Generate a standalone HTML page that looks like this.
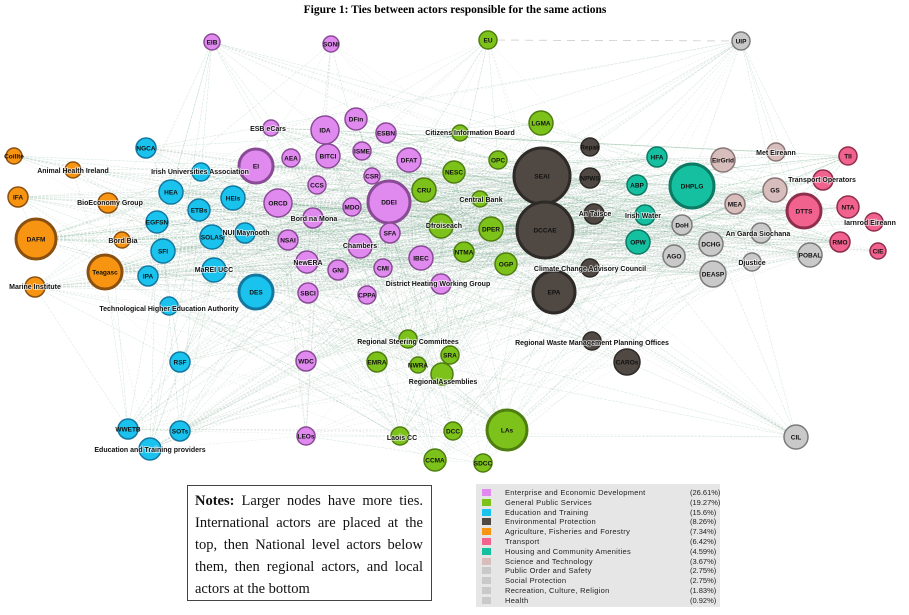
<!DOCTYPE html>
<html><head><meta charset="utf-8"><style>
html,body{margin:0;padding:0;background:#fff;width:909px;height:615px;overflow:hidden}
svg{display:block}
.t{font-family:"Liberation Sans",sans-serif;font-size:7px;font-weight:bold;fill:#111;text-anchor:middle;paint-order:stroke;stroke:#fff;stroke-width:1.6px;stroke-opacity:.7}
.ti{font-family:"Liberation Sans",sans-serif;font-size:6.5px;font-weight:bold;fill:#111;text-anchor:middle}
#notes{position:absolute;left:187px;top:485px;width:230px;height:106px;border:1.5px solid #444;padding:4px 6px 4px 7px;font-family:"Liberation Serif",serif;font-size:14.5px;line-height:22px;color:#111;white-space:nowrap}
#notes div{text-align:justify;text-align-last:justify;width:228px}
#notes div.l{text-align-last:left}
#leg{position:absolute;left:476px;top:484px;width:244px;height:123px;background:#e6e6e6;font-family:"Liberation Sans",sans-serif;font-size:7.5px;color:#222}
#leg div{position:absolute;left:4px;height:9.8px;width:236px}
#leg i{position:absolute;left:2px;top:1px;width:9px;height:7px}
#leg span{position:absolute;left:25px;top:0;letter-spacing:.3px}
#leg b{position:absolute;left:210px;top:0;font-weight:normal}
</style></head><body>
<svg id="s" width="909" height="615" viewBox="0 0 909 615">
<text x="455" y="13" text-anchor="middle" font-family="Liberation Serif,serif" font-size="11.5" font-weight="bold">Figure 1: Ties between actors responsible for the same actions</text>
<g id="e"></g><g id="n"></g>
</svg>
<div id="notes"><div><b>Notes:</b> Larger nodes have more ties.</div><div>International actors are placed at the</div><div>top, then National level actors below</div><div>them, then regional actors, and local</div><div class="l">actors at the bottom</div></div>
<div id="leg"></div>
<script>
var C={p:["#e08af0","#8a4b96"],g:["#7cc21a","#4e7d10"],b:["#19c3ee","#1378a0"],d:["#4f4843","#2e2a27"],o:["#f79411","#8a5010"],r:["#f2628e","#8f2e4c"],h:["#15c0a0","#0d7a64"],s:["#d8bdbd","#8a7676"],y:["#c9c9c9","#7b7b7b"]};
var N=[
[14,156,8,"o","Coillte"],[73,170,8,"o","",73,173,"Animal Health Ireland"],[18,197,10,"o","IFA"],[108,203,10,"o","",110,205,"BioEconomy Group"],[36,239,20,"o","DAFM"],[122,240,8,"o","",123,243,"Bord Bia"],[105,272,17,"o","Teagasc"],[35,287,10,"o","",35,289,"Marine Institute"],
[146,148,10,"b","NGCA"],[201,172,9,"b","",200,174,"Irish Universities Association"],[171,192,12,"b","HEA"],[199,210,11,"b","ETBs"],[233,198,12,"b","HEIs"],[157,222,11,"b","EGFSN"],[212,237,12,"b","SOLAS"],[245,233,10,"b","",246,235,"NUI Maynooth"],[163,251,12,"b","SFI"],[214,270,12,"b","",214,272,"MaREI UCC"],[148,276,10,"b","IPA"],[256,292,17,"b","DES"],[169,306,9,"b","",169,311,"Technological Higher Education Authority"],[180,362,10,"b","RSF"],[128,429,10,"b","WWETB"],[180,431,10,"b","SOTs"],[150,449,11,"b","",150,452,"Education and Training providers"],
[212,42,8,"p","EIB"],[331,44,8,"p","SONI"],[271,128,8,"p","",268,131,"ESB eCars"],[325,130,14,"p","IDA"],[356,119,11,"p","DFin"],[386,133,10,"p","ESBN"],[291,158,9,"p","AEA"],[328,156,12,"p","BITCI"],[362,151,9,"p","ISME"],[409,160,12,"p","DFAT"],[256,166,17,"p","EI"],[372,176,8,"p","CSR"],[317,185,9,"p","CCS"],[389,202,21,"p","DDEI"],[278,203,14,"p","ORCD"],[352,207,9,"p","MDO"],[313,218,10,"p","",314,221,"Bord na Mona"],[390,233,10,"p","SFA"],[288,240,10,"p","NSAI"],[360,246,12,"p","",360,248,"Chambers"],[421,258,12,"p","IBEC"],[307,262,11,"p","",308,265,"NewERA"],[338,270,10,"p","GNI"],[383,268,9,"p","CMI"],[441,284,10,"p","",438,286,"District Heating Working Group"],[367,295,9,"p","CPPA"],[308,293,10,"p","SBCI"],[306,361,10,"p","WDC"],[306,436,9,"p","LEOs"],
[488,40,9,"g","EU"],[541,123,12,"g","LGMA"],[460,133,8,"g","",470,135,"Citizens Information Board"],[498,160,9,"g","OPC"],[454,172,11,"g","NESC"],[424,190,12,"g","CRU"],[480,199,8,"g","",481,202,"Central Bank"],[441,226,12,"g","",444,228,"Dfroiseach"],[491,229,12,"g","DPER"],[464,252,10,"g","NTMA"],[506,264,11,"g","OGP"],[408,339,9,"g","",408,344,"Regional Steering Committees"],[377,362,10,"g","EMRA"],[418,365,8,"g","NWRA"],[450,355,9,"g","SRA"],[442,374,11,"g","",443,384,"RegionalAssemblies"],[507,430,20,"g","LAs"],[400,436,9,"g","",402,440,"Laois CC"],[453,431,9,"g","DCC"],[435,460,11,"g","CCMA"],[483,463,9,"g","SDCC"],
[542,176,28,"d","SEAI"],[545,230,28,"d","DCCAE"],[554,292,21,"d","EPA"],[590,147,9,"d","Repak"],[590,178,10,"d","NPWS"],[594,214,10,"d","",595,216,"An Taisce"],[590,268,9,"d","",590,271,"Climate Change Advisory Council"],[592,341,9,"d","",592,345,"Regional Waste Management Planning Offices"],[627,362,13,"d","CAROs"],
[657,157,10,"h","HFA"],[637,185,10,"h","ABP"],[692,186,22,"h","DHPLG"],[645,215,10,"h","",643,218,"Irish Water"],[638,242,12,"h","OPW"],
[723,160,12,"s","EirGrid"],[776,152,9,"s","",776,155,"Met Eireann"],[735,204,10,"s","MEA"],[775,190,12,"s","GS"],
[682,225,10,"y","DoH"],[674,256,11,"y","AGO"],[711,244,12,"y","DCHG"],[713,274,13,"y","DEASP"],[761,233,10,"y","",758,236,"An Garda Siochana"],[752,262,9,"y","",752,265,"Djustice"],[810,255,12,"y","POBAL"],[741,41,9,"y","UIP"],[796,437,12,"y","CIL"],
[848,156,9,"r","TII"],[823,180,10,"r","",822,182,"Transport Operators"],[804,211,17,"r","DTTS"],[848,207,11,"r","NTA"],[874,222,9,"r","",870,225,"Iarnrod Eireann"],[840,242,10,"r","RMO"],[878,251,8,"r","CIE"]];
var ns="http://www.w3.org/2000/svg";
function el(t,a,p){var e=document.createElementNS(ns,t);for(var k in a)e.setAttribute(k,a[k]);p.appendChild(e);return e}
var seed=7;function rnd(){seed=(seed*16807)%2147483647;return seed/2147483647}
var E=document.getElementById("e"),G=document.getElementById("n");
for(var i=0;i<N.length;i++)for(var j=i+1;j<N.length;j++){var a=N[i],b=N[j];var p=(a[2]*b[2])/750;if(rnd()<p){var green=rnd()<0.5;el("line",{x1:a[0],y1:a[1],x2:b[0],y2:b[1],stroke:green?"#3c8a5a":"#9aa8a0","stroke-width":green?0.4:0.35,"stroke-opacity":green?0.3:0.4,"stroke-dasharray":green?"3,1":"2,1.5"},E)}}
el("line",{x1:497,y1:40,x2:732,y2:41,stroke:"#bbb","stroke-width":0.6,"stroke-dasharray":"8,6"},E);
N.forEach(function(n){var c=C[n[3]];el("circle",{cx:n[0],cy:n[1],r:n[2],fill:c[0],stroke:c[1],"stroke-width":n[2]>16?3:1.5},G)});
N.forEach(function(n){if(n[4]){var t=el("text",{x:n[0],y:n[1]+2.5,"class":"ti"},G);t.textContent=n[4]}else{var t=el("text",{x:n[5],y:n[6],"class":"t"},G);t.textContent=n[7]}});
var L=[["#e08af0","Enterprise and Economic Development","(26.61%)"],["#7cc21a","General Public Services","(19.27%)"],["#19c3ee","Education and Training","(15.6%)"],["#4f4843","Environmental Protection","(8.26%)"],["#f79411","Agriculture, Fisheries and Forestry","(7.34%)"],["#f2628e","Transport","(6.42%)"],["#15c0a0","Housing and Community Amenities","(4.59%)"],["#d8bdbd","Science and Technology","(3.67%)"],["#c9c9c9","Public Order and Safety","(2.75%)"],["#c9c9c9","Social Protection","(2.75%)"],["#c9c9c9","Recreation, Culture, Religion","(1.83%)"],["#c9c9c9","Health","(0.92%)"]];
var lg=document.getElementById("leg");L.forEach(function(l,i){var d=document.createElement("div");d.style.top=(4+i*9.8)+"px";d.innerHTML='<i style="background:'+l[0]+'"></i><span>'+l[1]+'</span><b>'+l[2]+'</b>';lg.appendChild(d)});
</script>
</body></html>
